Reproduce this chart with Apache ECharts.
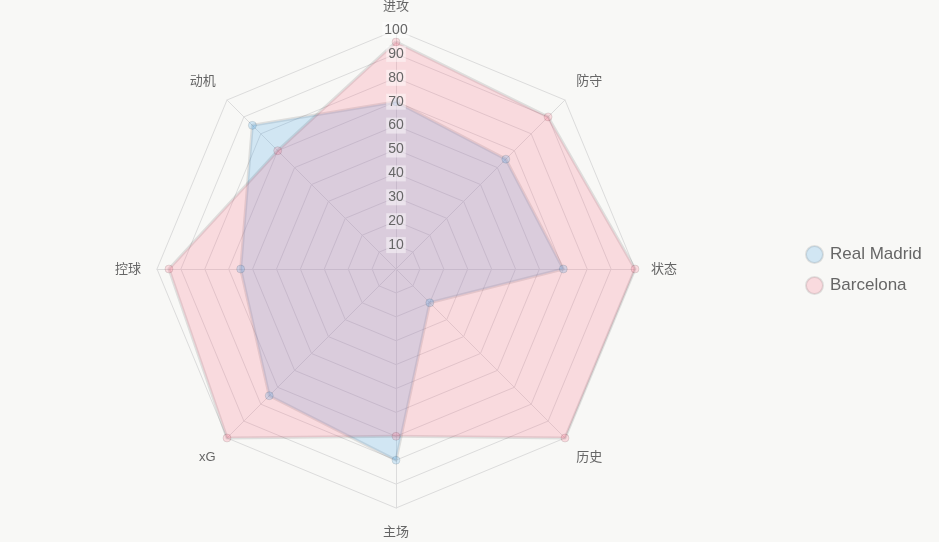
<!DOCTYPE html>
<html>
<head>
<meta charset="utf-8">
<script src="https://cdn.jsdelivr.net/npm/echarts@6/dist/echarts.min.js"></script>
<style>
  html, body { margin: 0; padding: 0; background: #f8f8f6; }
  #chart { width: 939px; height: 542px; }
</style>
</head>
<body>
<div id="chart"></div>
<script>
// indicators, clockwise from the top
var indicators = ['进攻', '防守', '状态', '历史', '主场', 'xG', '控球', '动机'];
var realMadrid = [70, 65, 70, 20, 80, 75, 65, 85];
var barcelona = [95, 90, 100, 100, 70, 100, 95, 70];
var seriesNames = ['Real Madrid', 'Barcelona'];
var ticks = [0, 10, 20, 30, 40, 50, 60, 70, 80, 90, 100];

// echarts lays radar axes counter-clockwise, so reorder
var order = [0, 7, 6, 5, 4, 3, 2, 1];
function reorder(arr) {
  return order.map(function (i) { return arr[i]; });
}

// which label style each indicator name uses (diagonal ones sit a bit further out)
var nameStyle = {
  '进攻': 'top', '防守': 'up', '动机': 'up', '状态': 'side', '控球': 'side',
  '历史': 'down', 'xG': 'down', '主场': 'bottom'
};

var chart = echarts.init(document.getElementById('chart'));
var textFont = '"Liberation Sans", "Noto Sans CJK SC", Arial, sans-serif';

var option = {
  backgroundColor: '#f8f8f6',
  legend: {
    orient: 'vertical',
    left: 800,
    top: 240,
    itemWidth: 21,
    itemHeight: 17,
    itemGap: 12,
    icon: 'circle',
    data: seriesNames,
    textStyle: { color: '#666', fontSize: 17, fontFamily: textFont }
  },
  radar: {
    center: [396, 269],
    radius: 239,
    shape: 'polygon',
    splitNumber: 10,
    nameGap: 16,
    axisName: {
      color: '#666',
      fontSize: 13,
      fontFamily: textFont,
      formatter: function (name) {
        return '{' + nameStyle[name] + '|' + name + '}';
      },
      rich: {
        top: { lineHeight: 15, fontSize: 13, color: '#666', fontFamily: textFont },
        up: { padding: [0, 0, 15, 0], fontSize: 13, color: '#666', fontFamily: textFont },
        side: { fontSize: 13, color: '#666', fontFamily: textFont },
        down: { padding: [16, 0, 0, 0], fontSize: 13, color: '#666', fontFamily: textFont },
        bottom: { lineHeight: 17, fontSize: 13, color: '#666', fontFamily: textFont }
      }
    },
    indicator: reorder(indicators).map(function (n) {
      return { name: n, min: ticks[0], max: ticks[ticks.length - 1] };
    }),
    splitArea: { show: false },
    splitLine: { lineStyle: { color: '#dcdcdc', width: 1 } },
    axisLine: { lineStyle: { color: '#dcdcdc', width: 1 } }
  },
  // polar only used to draw the tick labels on the top axis
  polar: { center: [396, 269], radius: 239 },
  angleAxis: { show: false, startAngle: 90, min: 0, max: 360 },
  radiusAxis: {
    min: ticks[0],
    max: ticks[ticks.length - 1],
    interval: 10,
    z: 10,
    axisLine: { show: false },
    axisTick: { show: false },
    splitLine: { show: false },
    axisLabel: {
      showMinLabel: false,
      margin: 0,
      align: 'center',
      verticalAlign: 'middle',
      color: '#666',
      fontSize: 14,
      fontFamily: textFont,
      backgroundColor: 'rgba(255,255,255,0.45)',
      padding: [1, 2]
    }
  },
  series: [{
    type: 'radar',
    z: 2,
    symbol: 'circle',
    symbolSize: 8,
    data: [
      {
        name: seriesNames[0],
        value: reorder(realMadrid),
        itemStyle: { color: 'rgba(54,162,235,0.2)', borderColor: 'rgba(0,0,0,0.1)', borderWidth: 1 },
        lineStyle: { color: 'rgba(0,0,0,0.1)', width: 3 },
        areaStyle: { color: 'rgba(54,162,235,0.2)', opacity: 1 }
      },
      {
        name: seriesNames[1],
        value: reorder(barcelona),
        itemStyle: { color: 'rgba(255,99,132,0.2)', borderColor: 'rgba(0,0,0,0.1)', borderWidth: 1 },
        lineStyle: { color: 'rgba(0,0,0,0.1)', width: 3 },
        areaStyle: { color: 'rgba(255,99,132,0.2)', opacity: 1 }
      }
    ]
  }]
};

chart.setOption(option);
</script>
</body>
</html>
